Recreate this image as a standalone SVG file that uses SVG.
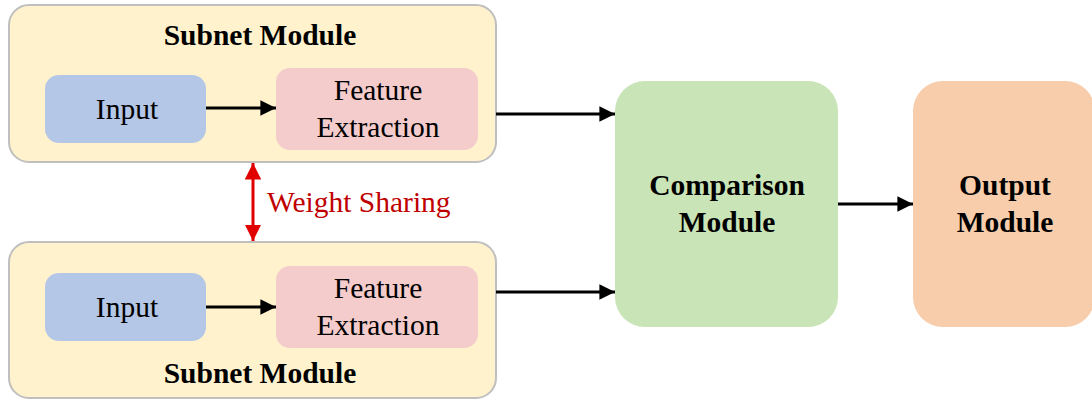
<svg xmlns="http://www.w3.org/2000/svg" width="1092" height="400" viewBox="0 0 1092 400">
  <style>
    .subnet { fill: #fff2cc; stroke: #bfbfbf; stroke-width: 2; }
    .input { fill: #b4c7e7; }
    .feature { fill: #f4cccc; }
    .compare { fill: #c9e4b6; }
    .output { fill: #f8cdab; }
    text { font-family: "Liberation Serif", "Times New Roman", serif; fill: #000; text-anchor: middle; }
    .bold { font-weight: bold; font-size: 29.5px; }
    .reg { font-size: 29.5px; }
    .ws { fill: #c00000; text-anchor: start; }
    .conn { stroke: #000; stroke-width: 3; fill: none; }
    .share { stroke: #e00000; stroke-width: 3; fill: none; }
  </style>
  <defs>
    <marker id="arrow" viewBox="0 0 10 10" refX="10" refY="5" markerWidth="5.5" markerHeight="5.2" markerUnits="strokeWidth" orient="auto">
      <path d="M0,0 L10,5 L0,10 Z" fill="#000"/>
    </marker>
    <marker id="redhead" viewBox="0 0 10 10" refX="10" refY="5" markerWidth="5.5" markerHeight="5.8" markerUnits="strokeWidth" orient="auto-start-reverse">
      <path d="M0,0 L10,5 L0,10 Z" fill="#e00000"/>
    </marker>
  </defs>

  <!-- upper subnet -->
  <g id="subnet-top">
    <rect class="subnet" x="9" y="5" width="487" height="157" rx="20"/>
    <text class="bold" x="260" y="45">Subnet Module</text>
  </g>
  <g id="input-top">
    <rect class="input" x="45" y="75" width="161" height="68" rx="14"/>
    <text class="reg" x="127" y="119">Input</text>
  </g>
  <g id="feature-top">
    <rect class="feature" x="276" y="68" width="202" height="82" rx="14"/>
    <text class="reg" x="378" y="100">Feature</text>
    <text class="reg" x="378" y="137">Extraction</text>
  </g>

  <!-- lower subnet -->
  <g id="subnet-bottom">
    <rect class="subnet" x="9" y="242" width="487" height="156" rx="20"/>
    <text class="bold" x="260" y="383">Subnet Module</text>
  </g>
  <g id="input-bottom">
    <rect class="input" x="45" y="273" width="161" height="68" rx="14"/>
    <text class="reg" x="127" y="317">Input</text>
  </g>
  <g id="feature-bottom">
    <rect class="feature" x="276" y="266" width="202" height="82" rx="14"/>
    <text class="reg" x="378" y="298">Feature</text>
    <text class="reg" x="378" y="335">Extraction</text>
  </g>

  <!-- comparison and output -->
  <g id="comparison">
    <rect class="compare" x="615" y="81" width="223" height="246" rx="30"/>
    <text class="bold" x="727" y="195">Comparison</text>
    <text class="bold" x="727" y="232">Module</text>
  </g>
  <g id="output">
    <rect class="output" x="913" y="81" width="182" height="246" rx="30"/>
    <text class="bold" x="1005" y="195">Output</text>
    <text class="bold" x="1005" y="232">Module</text>
  </g>

  <!-- weight sharing label -->
  <g id="weight-sharing">
    <text class="reg ws" x="267" y="212">Weight Sharing</text>
  </g>

  <!-- connectors -->
  <g id="connectors">
    <line class="conn" x1="206" y1="108" x2="276" y2="108" marker-end="url(#arrow)"/>
    <line class="conn" x1="206" y1="307" x2="276" y2="307" marker-end="url(#arrow)"/>
    <line class="conn" x1="496" y1="114" x2="615" y2="114" marker-end="url(#arrow)"/>
    <line class="conn" x1="496" y1="292" x2="615" y2="292" marker-end="url(#arrow)"/>
    <line class="conn" x1="838" y1="204" x2="913" y2="204" marker-end="url(#arrow)"/>
    <line class="share" x1="253" y1="163" x2="253" y2="241" marker-start="url(#redhead)" marker-end="url(#redhead)"/>
  </g>
</svg>
